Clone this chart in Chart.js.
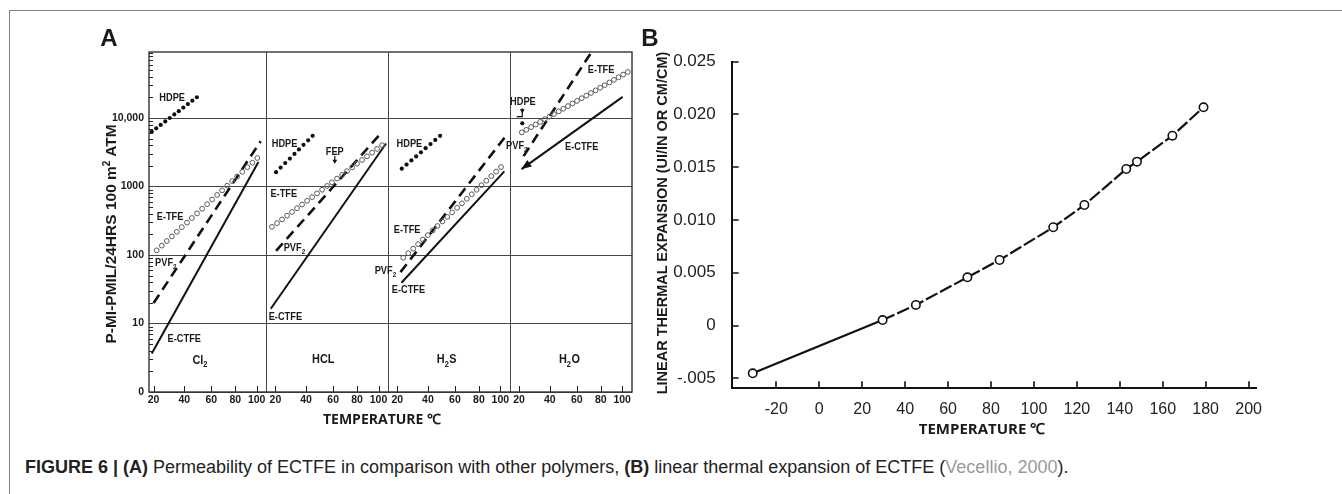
<!DOCTYPE html>
<html><head><meta charset="utf-8">
<script src="https://cdn.jsdelivr.net/npm/chart.js@4.4.1/dist/chart.umd.min.js"></script>
<style>
html,body{margin:0;padding:0;background:#fff;}
body{width:1342px;height:494px;position:relative;overflow:hidden;font-family:'Liberation Sans',Arial,sans-serif;color:#1a1a1a;}
.abs{position:absolute;white-space:nowrap;line-height:1;}
#frameTop{left:9px;top:10px;width:1333px;height:0;border-top:1px solid #808080;}
#frameLeft{left:9px;top:10px;width:0;height:484px;border-left:1px solid #808080;}
.letter{font-weight:bold;font-size:24px;transform:translate(-50%,-50%);}
.rot{transform:translate(-50%,-50%) rotate(-90deg);font-weight:bold;}
.ctr{transform:translate(-50%,-50%);}
.ttl{font-family:'Open Sans','Liberation Sans',sans-serif;font-weight:700;}
#cA{position:absolute;left:0;top:0;}
#cB{position:absolute;left:640px;top:0;}
#cap{left:25px;top:467px;transform:translateY(-50%);font-size:18px;color:#222;}
</style></head><body>
<div class="abs" id="frameTop"></div>
<div class="abs" id="frameLeft"></div>
<canvas id="cA" width="650" height="440"></canvas>
<canvas id="cB" width="702" height="450"></canvas>
<div class="abs letter" style="left:109px;top:38px;">A</div>
<div class="abs letter" style="left:650px;top:38px;">B</div>
<div class="abs rot" style="left:110px;top:234px;font-size:15.5px;">P-MI-PMIL/24HRS 100 m<sup style="font-size:10px;">2</sup> ATM</div>
<div class="abs ctr ttl" style="left:382px;top:419px;font-size:14px;">TEMPERATURE ℃</div>
<div class="abs rot" style="left:662px;top:223px;font-size:14.5px;">LINEAR THERMAL EXPANSION (UI/IN OR CM/CM)</div>
<div class="abs ctr ttl" style="left:982px;top:428px;font-size:15px;">TEMPERATURE ℃</div>
<div class="abs" id="cap"><b>FIGURE 6 | (A)</b> Permeability of ECTFE in comparison with other polymers, <b>(B)</b> linear thermal expansion of ECTFE (<span style="color:#9a9a9a;">Vecellio, 2000</span>).</div>
<script>
// ---------------- Panel A data (temperature °C, permeability) ----------------
const gases = ['Cl_2', 'HCL', 'H_2S', 'H_2O'];
const xTickTempsA = [20, 40, 60, 80, 100];
const xTickLabelsA = ['20', '40', '60', '80', '100'];
const yTickValuesA = [1, 10, 100, 1000, 10000];
const yTickLabelsA = ['0', '10', '100', '1000', '10,000'];

const hdpeTemp = [
  [18.9, 21.6, 24.4, 27.3, 30.2, 33.2, 36.2, 39.3, 42.5, 45.7, 49.0],
  [20.4, 23.2, 26.1, 29.1, 32.1, 35.1, 38.2, 41.4, 44.6],
  [22.8, 25.8, 28.9, 32.0, 35.2, 38.4, 41.8, 45.2, 48.7],
  [22.0]
];
const hdpePerm = [
  [6300, 7080, 7940, 8930, 10000, 11300, 12600, 14200, 16000, 17900, 20100],
  [1620, 1890, 2200, 2560, 2990, 3480, 4060, 4720, 5500],
  [1820, 2090, 2400, 2750, 3160, 3630, 4170, 4790, 5500],
  [8360]
];
const etfeTemp = [
  [21.9, 25.1, 28.3, 31.6, 34.9, 38.3, 41.9, 45.4, 49.1, 52.9, 56.7, 60.6, 64.6, 68.7, 73.0, 77.3, 81.7, 86.3, 91.0, 95.8, 100.6],
  [17.9, 21.0, 24.1, 27.3, 30.5, 33.8, 37.2, 40.7, 44.2, 47.8, 51.5, 55.3, 59.1, 63.1, 67.2, 71.3, 75.6, 79.9, 84.4, 89.0, 93.8, 98.6, 103.6],
  [23.7, 26.9, 30.1, 33.3, 36.5, 39.9, 43.3, 46.8, 50.4, 54.1, 57.8, 61.7, 65.6, 69.6, 73.8, 78.0, 82.3, 86.7, 91.3, 95.9, 100.7],
  [21.7, 24.5, 27.5, 30.5, 33.5, 36.6, 39.8, 43.0, 46.3, 49.7, 53.2, 56.6, 60.2, 63.9, 67.7, 71.5, 75.5, 79.5, 83.5, 87.8, 92.1, 96.5, 101.0, 105.7]
];
const etfePerm = [
  [117, 137, 160, 187, 218, 255, 297, 347, 405, 473, 552, 646, 753, 879, 1028, 1200, 1400, 1637, 1910, 2228, 2606],
  [258, 292, 331, 375, 426, 482, 546, 618, 700, 793, 897, 1019, 1153, 1306, 1479, 1675, 1897, 2153, 2438, 2761, 3126, 3540, 4009],
  [91.2, 106, 124, 144, 168, 195, 228, 265, 309, 360, 419, 488, 568, 662, 771, 897, 1045, 1216, 1419, 1652, 1923],
  [6166, 6730, 7362, 8035, 8770, 9594, 10470, 11430, 12500, 13650, 14930, 16290, 17780, 19450, 21230, 23170, 25350, 27670, 30200, 33040, 36060, 39360, 43050, 46990]
];
const pvf2Temp = [[20.0, 104.0], [20.4, 102.3], [22.0, 104.8], [22.8, 71.2]];
const pvf2Perm = [[19.9, 4590], [115, 5960], [56.2, 5310], [2780, 87300]];
const ectfeTemp = [[18.9, 101.7], [17.2, 107.6], [22.6, 104.0], [21.5, 100.5]];
const ectfePerm = [[3.66, 2280], [16.4, 4250], [39.4, 1660], [1795, 20370]];

const gasLabelTemp = [51.4, 52.4, 53.6, 54.3];
const gasLabelPerm = [2.93, 2.99, 2.99, 2.99];
const polyLabelText = ['HDPE','E-TFE','PVF_2','E-CTFE', 'HDPE','FEP','E-TFE','PVF_2','E-CTFE', 'HDPE','E-TFE','PVF_2','E-CTFE', 'HDPE','E-TFE','PVF_2','E-CTFE'];
const polyLabelPanel = [0,0,0,0, 1,1,1,1,1, 2,2,2,2, 3,3,3,3];
const polyLabelTemp = [31.8, 30.4, 27.8, 40.0, 25.7, 61.3, 25.2, 32.2, 26.2, 27.6, 26.2, 13.1, 27.0, 22.4, 80.3, 18.8, 63.9];
const polyLabelPerm = [19360, 362, 76.2, 5.96, 4246, 3192, 781, 125.6, 12.25, 4246, 233, 58.2, 31.3, 17180, 50800, 3945, 3785];
const fepArrowTemp = 61.3;
const fepArrowPerm = [2800, 2150];
const hdpePointerTemp = [18.6, 22.0];
const hdpePointerPerm = [10450, 13900];

// ---------------- Panel B data ----------------
const tempB = [-31, 29.5, 45, 69, 84, 109, 123.5, 143, 148, 164.5, 179];
const expB = [-0.00453, 0.00052, 0.00195, 0.00457, 0.00621, 0.00931, 0.01142, 0.01483, 0.01553, 0.01799, 0.02068];
const xTickValuesB = [-20, 0, 20, 40, 60, 80, 100, 120, 140, 160, 180, 200];
const xTickLabelsB = ['-20', '0', '20', '40', '60', '80', '100', '120', '140', '160', '180', '200'];
const yTickValuesB = [-0.005, 0, 0.005, 0.010, 0.015, 0.020, 0.025];
const yTickLabelsB = ['-.005', '0', '0.005', '0.010', '0.015', '0.020', '0.025'];

// ---------------- helpers ----------------
// reciprocal-temperature (Arrhenius) axis, each gas panel spans one unit
const T_LO = 14.7, T_HI = 110;
const R0 = 1000 / (T_LO + 273.15), R1 = 1000 / (T_HI + 273.15);
function axisX(panel, t) { return panel + (R0 - 1000 / (t + 273.15)) / (R0 - R1); }

function fontAvailable(name) {
  const c = document.createElement('canvas').getContext('2d');
  c.font = '20px monospace';
  const w0 = c.measureText('HDPE 10,000 abc').width;
  c.font = "20px '" + name + "', monospace";
  return Math.abs(c.measureText('HDPE 10,000 abc').width - w0) > 0.5;
}
const NARROW = fontAvailable('Liberation Sans Narrow');
const FAM_A = NARROW ? "'Liberation Sans Narrow','Liberation Sans',Arial,sans-serif" : "'Liberation Sans',Arial,sans-serif";
const FAM = "'Liberation Sans',Arial,sans-serif";

function drawLabel(ctx, text, cx, cy, size) {
  const segs = [];
  for (let i = 0; i < text.length; i++) {
    if (text[i] === '_' && i + 1 < text.length) { segs.push({ t: text[i + 1], sub: true }); i++; }
    else {
      if (segs.length && !segs[segs.length - 1].sub) segs[segs.length - 1].t += text[i];
      else segs.push({ t: text[i], sub: false });
    }
  }
  ctx.save();
  ctx.translate(cx, cy);
  if (!NARROW) ctx.scale(0.84, 1);
  ctx.textBaseline = 'middle';
  ctx.textAlign = 'left';
  ctx.fillStyle = '#1a1a1a';
  let total = 0;
  for (const s of segs) {
    ctx.font = 'bold ' + (s.sub ? size * 0.68 : size) + 'px ' + FAM_A;
    s.w = ctx.measureText(s.t).width;
    total += s.w + (s.sub ? 0.5 : 0);
  }
  let xx = -total / 2;
  for (const s of segs) {
    ctx.font = 'bold ' + (s.sub ? size * 0.68 : size) + 'px ' + FAM_A;
    ctx.fillText(s.t, xx, s.sub ? size * 0.38 : 0);
    xx += s.w + (s.sub ? 0.5 : 0);
  }
  ctx.restore();
}

// ---------------- Chart A ----------------
const xTicksA = [];
for (let p = 0; p < 4; p++) {
  xTickTempsA.forEach((t, i) => xTicksA.push({ value: axisX(p, t), lbl: xTickLabelsA[i] }));
  if (p > 0) xTicksA.push({ value: p, lbl: '' });
}
xTicksA.sort((a, b) => a.value - b.value);
const isBoundary = v => v !== undefined && Math.abs(v - Math.round(v)) < 1e-9;

const datasetsA = [];
for (let p = 0; p < 4; p++) {
  datasetsA.push({ label: 'E-TFE ' + gases[p], data: etfeTemp[p].map((t, i) => ({ x: axisX(p, t), y: etfePerm[p][i] })),
    showLine: false, pointRadius: 2.4, pointBorderWidth: 1, pointBorderColor: '#5a5a5a', pointBackgroundColor: 'rgba(255,255,255,0)' });
  datasetsA.push({ label: 'HDPE ' + gases[p], data: hdpeTemp[p].map((t, i) => ({ x: axisX(p, t), y: hdpePerm[p][i] })),
    showLine: false, pointRadius: 2.1, pointBorderWidth: 0, pointBackgroundColor: '#111', pointBorderColor: '#111' });
  datasetsA.push({ label: 'PVF2 ' + gases[p], data: pvf2Temp[p].map((t, i) => ({ x: axisX(p, t), y: pvf2Perm[p][i] })),
    showLine: true, borderColor: '#111', borderWidth: 2.6, borderDash: [10, 6], pointRadius: 0, fill: false });
  datasetsA.push({ label: 'E-CTFE ' + gases[p], data: ectfeTemp[p].map((t, i) => ({ x: axisX(p, t), y: ectfePerm[p][i] })),
    showLine: true, borderColor: '#111', borderWidth: 2, pointRadius: 0, fill: false });
}

const decorA = {
  id: 'decorA',
  afterDatasetsDraw(chart) {
    const { ctx, chartArea: a, scales: { x, y } } = chart;
    ctx.save();
    ctx.strokeStyle = '#222';
    ctx.lineWidth = 1;
    ctx.beginPath();
    for (let p = 0; p < 4; p++) for (const t of xTickTempsA) {
      const px = Math.round(x.getPixelForValue(axisX(p, t))) + 0.5;
      ctx.moveTo(px, a.bottom); ctx.lineTo(px, a.bottom - 6);
    }
    for (let d = 1; d < 1e5; d *= 10) for (let m = 2; m < 10; m++) {
      const v = m * d; if (v > y.max) break;
      const py = Math.round(y.getPixelForValue(v)) + 0.5;
      ctx.moveTo(a.left, py); ctx.lineTo(a.left + 4, py);
    }
    ctx.stroke();
    ctx.lineWidth = 1.4; ctx.strokeStyle = '#333';
    ctx.strokeRect(a.left, a.top, a.right - a.left, a.bottom - a.top);

    for (let i = 0; i < polyLabelText.length; i++) {
      drawLabel(ctx, polyLabelText[i], x.getPixelForValue(axisX(polyLabelPanel[i], polyLabelTemp[i])), y.getPixelForValue(polyLabelPerm[i]), 11);
    }
    for (let p = 0; p < 4; p++) {
      drawLabel(ctx, gases[p], x.getPixelForValue(axisX(p, gasLabelTemp[p])), y.getPixelForValue(gasLabelPerm[p]), 13);
    }
    ctx.strokeStyle = '#111'; ctx.fillStyle = '#111'; ctx.lineWidth = 1.2;
    const fx = x.getPixelForValue(axisX(1, fepArrowTemp));
    const fy0 = y.getPixelForValue(fepArrowPerm[0]), fy1 = y.getPixelForValue(fepArrowPerm[1]);
    ctx.beginPath(); ctx.moveTo(fx, fy0); ctx.lineTo(fx, fy1 - 3); ctx.stroke();
    ctx.beginPath(); ctx.moveTo(fx - 2.5, fy1 - 4); ctx.lineTo(fx + 2.5, fy1 - 4); ctx.lineTo(fx, fy1); ctx.closePath(); ctx.fill();
    const hx0 = x.getPixelForValue(axisX(3, hdpePointerTemp[0])), hx1 = x.getPixelForValue(axisX(3, hdpePointerTemp[1]));
    const hy0 = y.getPixelForValue(hdpePointerPerm[0]), hy1 = y.getPixelForValue(hdpePointerPerm[1]);
    ctx.beginPath(); ctx.moveTo(hx0, hy0); ctx.lineTo(hx1, hy0); ctx.lineTo(hx1, hy1); ctx.stroke();
    ctx.beginPath(); ctx.moveTo(hx1 - 2.5, hy1 + 1); ctx.lineTo(hx1 + 2.5, hy1 + 1); ctx.lineTo(hx1, hy1 + 5); ctx.closePath(); ctx.fill();
    const p0x = x.getPixelForValue(axisX(3, ectfeTemp[3][0])), p0y = y.getPixelForValue(ectfePerm[3][0]);
    const p1x = x.getPixelForValue(axisX(3, ectfeTemp[3][1])), p1y = y.getPixelForValue(ectfePerm[3][1]);
    const ang = Math.atan2(p0y - p1y, p0x - p1x);
    const L = 10, W = 4;
    const bx = p0x - L * Math.cos(ang), by = p0y - L * Math.sin(ang);
    ctx.beginPath();
    ctx.moveTo(p0x, p0y);
    ctx.lineTo(bx + W * Math.sin(ang), by - W * Math.cos(ang));
    ctx.lineTo(bx - W * Math.sin(ang), by + W * Math.cos(ang));
    ctx.closePath(); ctx.fill();
    ctx.restore();
  }
};

new Chart(document.getElementById('cA'), {
  type: 'scatter',
  data: { datasets: datasetsA },
  options: {
    responsive: false, animation: false, events: [], devicePixelRatio: 1,
    layout: { padding: { left: 0, top: 52, right: 18, bottom: 18 }, autoPadding: false },
    plugins: { legend: { display: false }, tooltip: { enabled: false } },
    scales: {
      x: {
        type: 'linear', min: 0.035, max: 4,
        afterBuildTicks: s => { s.ticks = xTicksA.map(t => ({ value: t.value, lbl: t.lbl })); },
        afterFit: s => { s.height = 30; },
        grid: { color: c => (c.tick && isBoundary(c.tick.value)) ? '#444' : 'rgba(0,0,0,0)', lineWidth: 1, drawTicks: false },
        border: { display: false },
        ticks: { autoSkip: false, maxRotation: 0, minRotation: 0, padding: 2, color: '#1a1a1a',
          font: { family: FAM_A, size: NARROW ? 12 : 10.5, weight: 'bold' },
          callback: (v, i, ticks) => ticks[i].lbl }
      },
      y: {
        type: 'logarithmic', min: 1, max: 92000,
        afterBuildTicks: s => { s.ticks = yTickValuesA.map(v => ({ value: v })); },
        afterFit: s => { s.width = 149; },
        grid: { color: '#444', lineWidth: 1, drawTicks: false },
        border: { display: false },
        ticks: { autoSkip: false, padding: 5, color: '#1a1a1a',
          font: { family: FAM_A, size: NARROW ? 12.5 : 10.5, weight: 'bold' },
          callback: (v, i) => yTickLabelsA[i] }
      }
    }
  },
  plugins: [decorA]
});

// ---------------- Chart B ----------------
const decorB = {
  id: 'decorB',
  afterDraw(chart) {
    const { ctx, chartArea: a, scales: { x, y } } = chart;
    ctx.save();
    ctx.strokeStyle = '#111'; ctx.lineWidth = 1.6;
    ctx.beginPath();
    for (const v of xTickValuesB) { const px = Math.round(x.getPixelForValue(v)); ctx.moveTo(px, a.bottom); ctx.lineTo(px, a.bottom - 7); }
    for (const v of yTickValuesB) { const py = Math.round(y.getPixelForValue(v)); ctx.moveTo(a.left, py); ctx.lineTo(a.left + 7, py); }
    ctx.stroke();
    ctx.restore();
  }
};

new Chart(document.getElementById('cB'), {
  type: 'scatter',
  data: { datasets: [{
    label: 'Linear thermal expansion',
    data: tempB.map((t, i) => ({ x: t, y: expB[i] })),
    showLine: true, borderColor: '#111', borderWidth: 2.2, fill: false, tension: 0,
    pointRadius: 4.2, pointBorderWidth: 1.6, pointBorderColor: '#111', pointBackgroundColor: '#fff',
    segment: { borderDash: c => c.p0DataIndex === 0 ? [] : [13, 3] }
  }] },
  options: {
    responsive: false, animation: false, events: [], devicePixelRatio: 1,
    layout: { padding: { left: 0, top: 61.7, right: 86, bottom: 21.7 }, autoPadding: false },
    plugins: { legend: { display: false }, tooltip: { enabled: false } },
    scales: {
      x: {
        type: 'linear', min: -40.8, max: 203.45,
        afterBuildTicks: s => { s.ticks = xTickValuesB.map(v => ({ value: v })); },
        afterFit: s => { s.height = 40; },
        grid: { display: false },
        border: { display: true, color: '#111', width: 2 },
        ticks: { autoSkip: false, maxRotation: 0, padding: 4, color: '#222',
          font: { family: FAM, size: 16 }, callback: (v, i) => xTickLabelsB[i] }
      },
      y: {
        type: 'linear', min: -0.00595, max: 0.025,
        afterBuildTicks: s => { s.ticks = yTickValuesB.map(v => ({ value: v })); },
        afterFit: s => { s.width = 91.7; },
        grid: { display: false },
        border: { display: true, color: '#111', width: 2 },
        ticks: { autoSkip: false, padding: 8, color: '#222',
          font: { family: FAM, size: 17 }, callback: (v, i) => yTickLabelsB[i] }
      }
    }
  },
  plugins: [decorB]
});
</script>
</body></html>
